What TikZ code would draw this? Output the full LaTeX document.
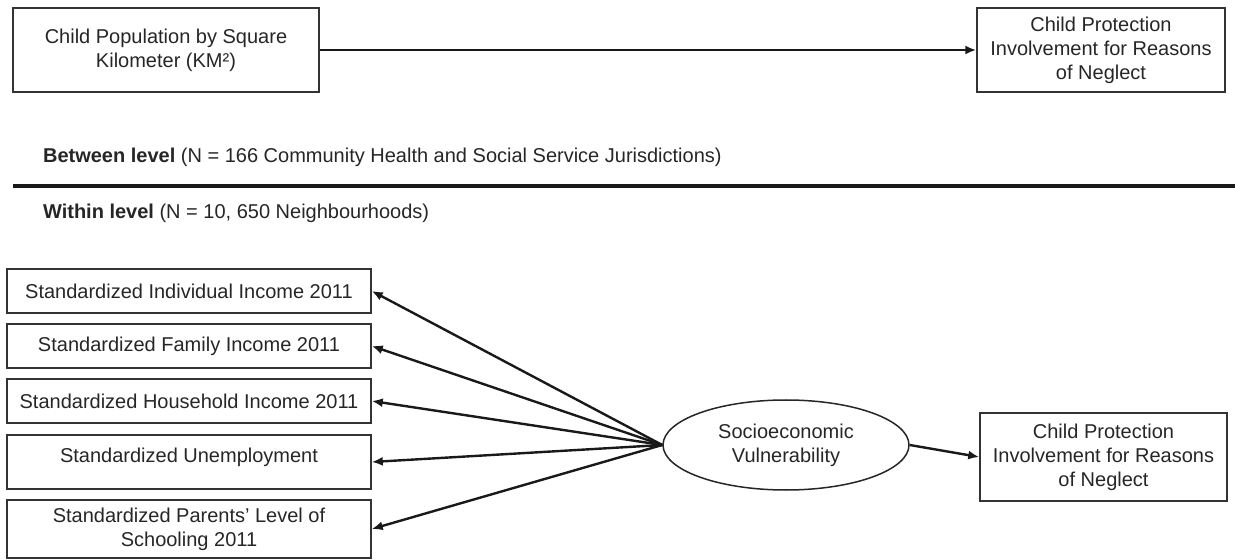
\documentclass[tikz,border=0pt]{standalone}
\usepackage{fontspec}
\setmainfont{Liberation Sans}
\usetikzlibrary{shapes.geometric,arrows.meta}

\begin{document}
\begin{tikzpicture}[x=0.5pt, y=-0.5pt,
    every node/.style={font=\fontsize{10pt}{12pt}\selectfont, text=black!85},
    varbox/.style={rectangle, draw=black!80, line width=0.75pt, align=center, inner sep=0pt},
    link/.style={draw=black!90, line width=1.2pt, -{Latex[length=5.5pt,width=4.5pt]}}]
    \useasboundingbox (0,0) rectangle (1235,560);
    % between level
    \node[varbox, minimum width=153pt, minimum height=42pt]
        (density) at (166,50) {Child Population by Square\\Kilometer (KM²)};
    \node[varbox, minimum width=124pt, minimum height=42pt]
        (cpitop) at (1101,50) {Child Protection\\Involvement for Reasons\\of Neglect};
    \draw[link] (density) -- (cpitop);
    \node[anchor=west] (between) at (36,157) {\textbf{Between level} (N = 166 Community Health and Social Service Jurisdictions)};
    \coordinate (sepleft) at (13,186);
    \coordinate (sepright) at (1235,186);
    \draw[line width=2pt, black!90] (sepleft) -- (sepright);
    \node[anchor=west] (within) at (36,213) {\textbf{Within level} (N = 10, 650 Neighbourhoods)};
    % within level
    \node[varbox, minimum width=182pt, minimum height=22pt]
        (indinc) at (189,291) {Standardized Individual Income 2011};
    \node[varbox, minimum width=182pt, minimum height=22pt]
        (faminc) at (189,346) {Standardized Family Income 2011};
    \node[varbox, minimum width=182pt, minimum height=22pt]
        (hhinc) at (189,401) {Standardized Household Income 2011};
    \node[varbox, minimum width=182pt, minimum height=27pt]
        (unemp) at (189,462) {Standardized Unemployment\\[-9pt]\strut};
    \node[varbox, minimum width=182pt, minimum height=29pt]
        (school) at (189,529) {Standardized Parents’ Level of\\Schooling 2011};
    \node[ellipse, draw=black!85, line width=0.75pt, inner sep=0pt, align=center,
        minimum width=123pt, minimum height=45pt]
        (sev) at (786,445) {Socioeconomic\\Vulnerability};
    \node[varbox, minimum width=123.5pt, minimum height=44pt]
        (cpi) at (1103.5,457) {Child Protection\\Involvement for Reasons\\of Neglect};
    \foreach \v in {indinc,faminc,hhinc,unemp,school}
        \draw[link] (sev.west) -- (\v.east);
    \draw[link] (sev.east) -- (cpi.west);
\end{tikzpicture}
\end{document}
